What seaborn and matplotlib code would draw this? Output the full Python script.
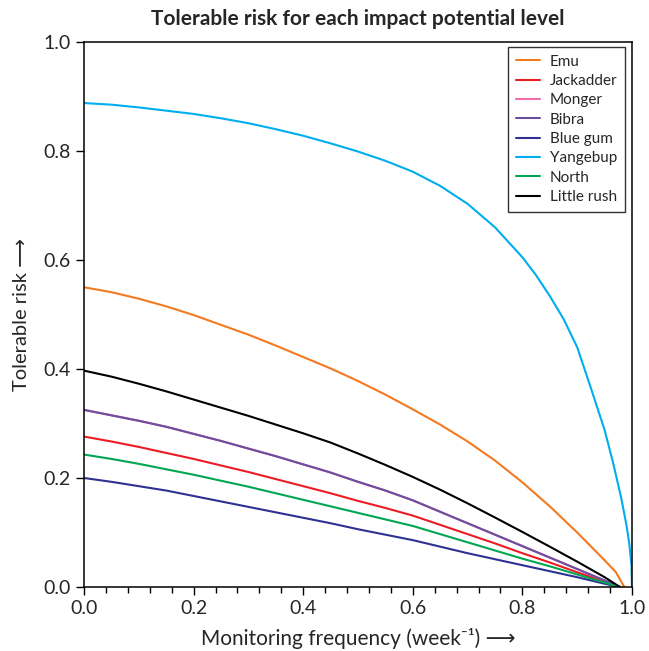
import numpy as np
import pandas as pd
import matplotlib
matplotlib.use("Agg")
import matplotlib.pyplot as plt
from matplotlib.ticker import MultipleLocator, FormatStrFormatter
import seaborn as sns

sites = ["Emu", "Jackadder", "Monger", "Bibra", "Blue gum", "Yangebup", "North", "Little rush"]
colors = ["#F47920", "#ED1C24", "#F06EAA", "#6B4F9E", "#2E3192", "#00AEEF", "#00A651", "#000000"]

x_grid = [0.0, 0.05, 0.1, 0.15, 0.2, 0.25, 0.3, 0.35, 0.4, 0.45, 0.5,
          0.55, 0.6, 0.65, 0.7, 0.75, 0.8, 0.85, 0.9, 0.95, 0.978]
emu_x = [0.0, 0.05, 0.1, 0.15, 0.2, 0.25, 0.3, 0.35, 0.4, 0.45, 0.5,
         0.55, 0.6, 0.65, 0.7, 0.75, 0.8, 0.85, 0.9, 0.95, 0.97, 0.986]
emu_y = [0.550, 0.541, 0.529, 0.515, 0.499, 0.481, 0.463, 0.443, 0.422, 0.401, 0.378,
         0.353, 0.326, 0.298, 0.267, 0.232, 0.192, 0.148, 0.100, 0.049, 0.028, 0.0]
jackadder_y = [0.276, 0.267, 0.257, 0.246, 0.235, 0.223, 0.211, 0.198, 0.185, 0.172, 0.158,
               0.145, 0.131, 0.114, 0.097, 0.080, 0.062, 0.045, 0.027, 0.010, 0.0]
monger_y = [0.325, 0.315, 0.305, 0.294, 0.281, 0.268, 0.254, 0.240, 0.225, 0.210, 0.193,
            0.177, 0.159, 0.138, 0.117, 0.096, 0.075, 0.054, 0.033, 0.012, 0.0]
bibra_y = [0.325, 0.315, 0.305, 0.294, 0.281, 0.268, 0.254, 0.240, 0.225, 0.210, 0.193,
           0.177, 0.159, 0.138, 0.117, 0.096, 0.075, 0.054, 0.033, 0.012, 0.0]
bluegum_y = [0.200, 0.193, 0.185, 0.177, 0.167, 0.157, 0.147, 0.137, 0.127, 0.117, 0.106,
             0.096, 0.086, 0.074, 0.062, 0.051, 0.040, 0.029, 0.018, 0.006, 0.0]
yang_x = [0.0, 0.05, 0.1, 0.15, 0.2, 0.25, 0.3, 0.35, 0.4, 0.45, 0.5, 0.55, 0.6, 0.65,
          0.7, 0.75, 0.8, 0.825, 0.85, 0.875, 0.9, 0.925, 0.95, 0.965, 0.98, 0.99, 0.995, 0.999, 1.0]
yang_y = [0.888, 0.885, 0.880, 0.874, 0.868, 0.860, 0.851, 0.840, 0.828, 0.814, 0.799, 0.782, 0.762, 0.736,
          0.703, 0.660, 0.605, 0.572, 0.534, 0.492, 0.440, 0.365, 0.288, 0.230, 0.165, 0.113, 0.080, 0.040, 0.0]
north_y = [0.243, 0.235, 0.226, 0.216, 0.206, 0.195, 0.184, 0.172, 0.160, 0.148, 0.136,
           0.124, 0.112, 0.097, 0.082, 0.067, 0.052, 0.038, 0.023, 0.008, 0.0]
littlerush_y = [0.397, 0.386, 0.373, 0.359, 0.344, 0.329, 0.314, 0.298, 0.282, 0.265, 0.245,
                0.224, 0.202, 0.1785, 0.1535, 0.1275, 0.101, 0.074, 0.0465, 0.018, 0.0]

series = {
    "Emu": (emu_x, emu_y),
    "Jackadder": (x_grid, jackadder_y),
    "Monger": (x_grid, monger_y),
    "Bibra": (x_grid, bibra_y),
    "Blue gum": (x_grid, bluegum_y),
    "Yangebup": (yang_x, yang_y),
    "North": (x_grid, north_y),
    "Little rush": (x_grid, littlerush_y),
}
rows = []
for s in sites:
    xs, ys = series[s]
    for xv, yv in zip(xs, ys):
        rows.append({"freq": xv, "risk": yv, "site": s})
df = pd.DataFrame(rows)

sns.set_style("ticks")
plt.rcParams["font.family"] = ["Lato", "DejaVu Sans"]

fig = plt.figure(figsize=(6.49, 6.51), dpi=100)
ax = fig.add_axes([84/649, 1-587/651, (632-84)/649, (587-42)/651])

sns.lineplot(data=df, x="freq", y="risk", hue="site", hue_order=sites,
             palette=dict(zip(sites, colors)), ax=ax, linewidth=1.5, sort=False,
             estimator=None)

ax.set_xlim(0, 1)
ax.set_ylim(0, 1)
ax.xaxis.set_major_locator(MultipleLocator(0.2))
ax.xaxis.set_minor_locator(MultipleLocator(0.04))
ax.yaxis.set_major_locator(MultipleLocator(0.2))
ax.tick_params(axis="both", which="major", direction="out", length=6, width=1, labelsize=14, color="black")
ax.tick_params(axis="x", which="minor", direction="out", length=4, width=1, color="black")
ax.tick_params(axis="y", which="minor", left=False)
ax.xaxis.set_major_formatter(FormatStrFormatter("%.1f"))
ax.yaxis.set_major_formatter(FormatStrFormatter("%.1f"))
for sp in ax.spines.values():
    sp.set_visible(True)
    sp.set_linewidth(1.1)
    sp.set_color("black")

ax.set_xlabel("Monitoring frequency (week\u207b\u00b9) \u27f6", fontsize=15, labelpad=8)
ax.set_ylabel("Tolerable risk \u27f6", fontsize=14.5, labelpad=10)
ax.set_title("Tolerable risk for each impact potential level", fontsize=15, fontweight="bold", pad=12)

leg = ax.legend(loc="upper right", fontsize=11, frameon=True, fancybox=False,
                edgecolor="black", handlelength=1.6, handletextpad=0.6,
                borderpad=0.5, labelspacing=0.35, borderaxespad=0,
                bbox_to_anchor=(0.987, 0.991))
leg.get_frame().set_linewidth(1.0)

fig.savefig("out.png", dpi=100)
